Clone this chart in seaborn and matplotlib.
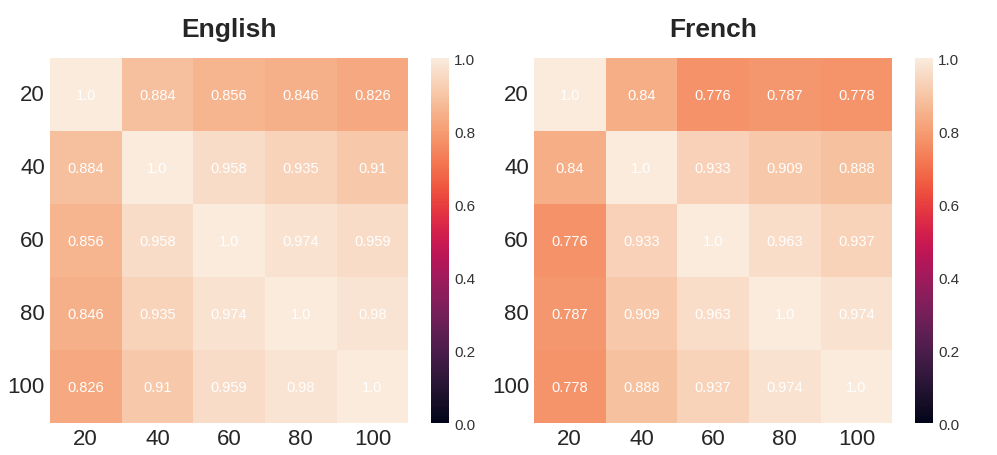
import numpy as np
import pandas as pd
import seaborn as sns
import matplotlib.pyplot as plt

labels = ["20", "40", "60", "80", "100"]
english = [[1.0, 0.884, 0.856, 0.846, 0.826],
           [0.884, 1.0, 0.958, 0.935, 0.91],
           [0.856, 0.958, 1.0, 0.974, 0.959],
           [0.846, 0.935, 0.974, 1.0, 0.98],
           [0.826, 0.91, 0.959, 0.98, 1.0]]
french = [[1.0, 0.84, 0.776, 0.787, 0.778],
          [0.84, 1.0, 0.933, 0.909, 0.888],
          [0.776, 0.933, 1.0, 0.963, 0.937],
          [0.787, 0.909, 0.963, 1.0, 0.974],
          [0.778, 0.888, 0.937, 0.974, 1.0]]

sns.set_style("whitegrid")
plt.rcParams['font.family'] = ['Liberation Sans', 'DejaVu Sans']
fig, axes = plt.subplots(1, 2, figsize=(9.97, 4.56), dpi=100)
for ax, data, title in zip(axes, [english, french], ["English", "French"]):
    arr = np.array(data)
    annot = np.array([[str(v) for v in row] for row in data])
    sns.heatmap(pd.DataFrame(arr, index=labels, columns=labels), ax=ax,
                cmap="rocket", vmin=0, vmax=1, annot=annot, fmt="",
                annot_kws={"color": "white", "fontsize": 10.5})
    ax.set_title(title, fontsize=19, fontweight="bold", pad=16)
    ax.tick_params(axis="both", labelsize=16, length=0)
    ax.set_yticklabels(labels, rotation=0)
    cb = ax.collections[0].colorbar
    cb.ax.tick_params(labelsize=11, length=0, colors="#333333")
    cb.outline.set_visible(False)
plt.subplots_adjust(left=0.05, right=0.985, top=0.87, bottom=0.07, wspace=0.08)
plt.savefig("out.png")
